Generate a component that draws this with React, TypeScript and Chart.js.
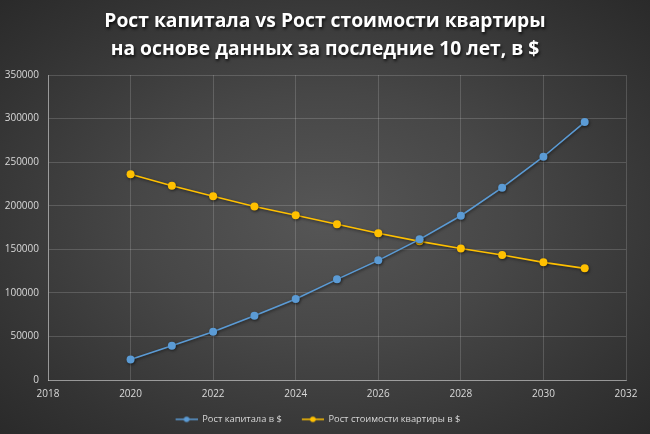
import React, { useEffect, useRef } from "react";
import { Chart, registerables } from "chart.js";

Chart.register(...registerables);

const titleLines = [
  "Рост капитала vs Рост стоимости квартиры",
  "на основе данных за последние 10 лет, в $",
];
const years = [2020, 2021, 2022, 2023, 2024, 2025, 2026, 2027, 2028, 2029, 2030, 2031];
const capital = [23500, 39400, 55500, 73800, 93000, 115500, 137300, 161400, 188500, 220700, 256200, 296000];
const apartment = [236000, 223000, 210800, 199000, 189000, 178700, 168300, 159100, 151000, 143400, 135000, 128100];
const seriesNames = ["Рост капитала в $", "Рост стоимости квартиры в $"];
const seriesColors = ["#5b9bd5", "#ffc000"];
const xMin = 2018, xMax = 2032, xStep = 2;
const yMin = 0, yMax = 350000, yStep = 50000;

function legendIcon(color: string) {
  const c = document.createElement("canvas");
  c.width = 32;
  c.height = 8;
  const ctx = c.getContext("2d")!;
  ctx.strokeStyle = color;
  ctx.lineWidth = 1.5;
  ctx.beginPath();
  ctx.moveTo(10, 4);
  ctx.lineTo(32, 4);
  ctx.stroke();
  ctx.fillStyle = color;
  ctx.beginPath();
  ctx.arc(21, 4, 2.8, 0, Math.PI * 2);
  ctx.fill();
  return c;
}

export default function App() {
  const ref = useRef<HTMLCanvasElement>(null);
  useEffect(() => {
    const icons = seriesColors.map(legendIcon);
    const titlePlugin = {
      id: "customTitle",
      afterDraw(chart: any) {
        const ctx = chart.ctx;
        ctx.save();
        ctx.font = "bold 19.3px 'Open Sans'";
        ctx.fillStyle = "#ffffff";
        ctx.textAlign = "center";
        ctx.textBaseline = "middle";
        ctx.shadowColor = "rgba(0,0,0,0.8)";
        ctx.shadowBlur = 3;
        ctx.shadowOffsetX = 1;
        ctx.shadowOffsetY = 1.5;
        ctx.fillText(titleLines[0], 325, 22);
        ctx.fillText(titleLines[1], 325, 50);
        ctx.restore();
      },
    };
    const shadowPlugin = {
      id: "shadow",
      beforeDatasetDraw(chart: any) {
        const ctx = chart.ctx;
        ctx.save();
        ctx.shadowColor = "rgba(0,0,0,0.55)";
        ctx.shadowBlur = 3;
        ctx.shadowOffsetX = 0.8;
        ctx.shadowOffsetY = 1.2;
      },
      afterDatasetDraw(chart: any) {
        chart.ctx.restore();
      },
    };
    const mk = (vals: number[], i: number) => ({
      label: seriesNames[i],
      data: years.map((x, k) => ({ x, y: vals[k] })),
      borderColor: seriesColors[i],
      backgroundColor: seriesColors[i],
      pointBackgroundColor: seriesColors[i],
      pointBorderColor: seriesColors[i],
      pointRadius: 4,
      pointBorderWidth: 0,
      borderWidth: 1.6,
      pointStyle: "circle",
      tension: 0,
    });
    const chart = new Chart(ref.current!, {
      type: "line",
      data: { datasets: [mk(capital, 0), mk(apartment, 1)] },
      plugins: [titlePlugin, shadowPlugin],
      options: {
        animation: false,
        responsive: false,
        layout: { padding: { top: 75, right: 24, left: 0, bottom: 0 } },
        plugins: {
          title: { display: false },
          tooltip: { enabled: false },
          legend: {
            position: "bottom",
            labels: {
              color: "#d9d9d9",
              font: { family: "'Open Sans'", size: 9.3 },
              usePointStyle: true,
              pointStyleWidth: 32,
              boxHeight: 8,
              padding: 10,
              generateLabels: () =>
                seriesNames.map((n, i) => ({
                  text: n,
                  pointStyle: icons[i] as any,
                  fillStyle: seriesColors[i],
                  strokeStyle: seriesColors[i],
                  lineWidth: 0,
                  fontColor: "#d9d9d9",
                  hidden: false,
                  datasetIndex: i,
                })),
            },
          },
        },
        scales: {
          x: {
            type: "linear",
            min: xMin,
            max: xMax,
            afterFit: (s: any) => { s.height = 24.7; },
            ticks: {
              stepSize: xStep,
              color: "#d9d9d9",
              font: { family: "'Open Sans'", size: 10 },
              padding: 8,
              callback: (v: any) => String(v),
            },
            grid: { color: "rgba(255,255,255,0.16)", drawTicks: false, lineWidth: 1 },
            border: { color: "rgba(255,255,255,0.4)", width: 1 },
          },
          y: {
            min: yMin,
            max: yMax,
            afterFit: (s: any) => { s.width = 48; },
            ticks: {
              stepSize: yStep,
              color: "#d9d9d9",
              font: { family: "'Open Sans'", size: 10 },
              padding: 9,
              callback: (v: any) => String(v),
            },
            grid: { color: "rgba(255,255,255,0.16)", drawTicks: false, lineWidth: 1 },
            border: { color: "rgba(255,255,255,0.4)", width: 1 },
          },
        },
      },
    } as any);
    return () => chart.destroy();
  }, []);
  return (
    <div
      style={{
        position: "fixed",
        left: 0,
        top: 0,
        width: 650,
        height: 434,
        background:
          "radial-gradient(ellipse at 50% 50%, #565656 0%, #474747 40%, #333333 80%, #2a2a2a 100%)",
      }}
    >
      <canvas ref={ref} width={650} height={434} />
    </div>
  );
}
